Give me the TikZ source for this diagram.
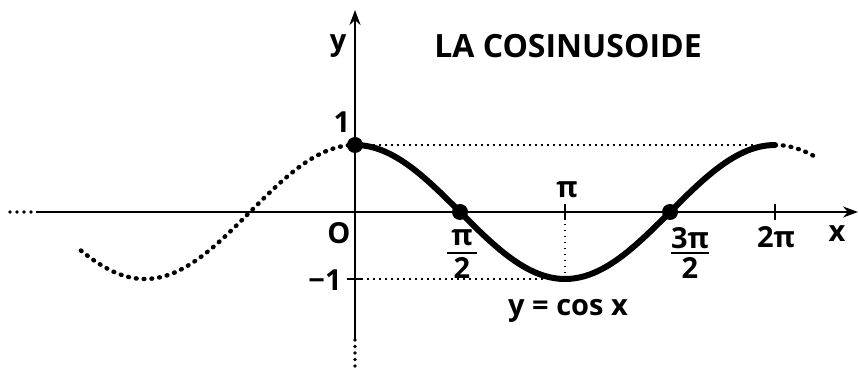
\documentclass[tikz,border=0pt]{standalone}
\usepackage{fontspec}
\setmainfont{Open Sans}
\usetikzlibrary{arrows.meta}
\begin{document}
\begin{tikzpicture}[x=1pt,y=-1pt,
  axis/.style={line width=2.4pt},
  thindot/.style={line width=1.6pt,dash pattern=on 1.5pt off 4.5pt},
  curve/.style={line width=6pt},
  curvedot/.style={line width=4.4pt,line cap=round,dash pattern=on 0.8pt off 7pt},
  pt/.style={circle,fill=black,inner sep=0pt,minimum size=16pt},
  lbl/.style={font=\bfseries\fontsize{29}{32}\selectfont,inner sep=0pt},
  fbar/.style={line width=2.2pt}]
\useasboundingbox (0,0) rectangle (859,371);
% coordinates
\coordinate (O) at (355,212);
\coordinate (xl) at (36,212);
\coordinate (xr) at (858,212);
\coordinate (xd) at (10,212);
\coordinate (yt) at (355,10);
\coordinate (yb) at (355,340);
\coordinate (ybd) at (355,368);
\coordinate (one) at (355,145);
\coordinate (mone) at (355,279);
\coordinate (pimin) at (565,279);
\coordinate (pi) at (565,212);
\coordinate (twopi) at (775,212);
\coordinate (twopitop) at (775,145);
% axes
\draw[axis,-{Stealth[length=15pt,width=11pt]}] (xl) -- (xr);
\draw[line cap=round,dash pattern=on 0pt off 7pt,line width=3.6pt] (xd) -- (xl);
\draw[axis,-{Stealth[length=15pt,width=11pt]}] (yb) -- (yt);
\draw[line width=3.6pt,line cap=round,dash pattern=on 0pt off 6.5pt] (yb) -- (ybd);
% ticks
\draw[axis] ([yshift=-8pt]pi) -- ([yshift=8pt]pi);
\draw[axis] ([yshift=-8pt]twopi) -- ([yshift=8pt]twopi);
\draw[axis] ([xshift=-8pt]mone) -- ([xshift=8pt]mone);
% guide lines
\draw[thindot] (one) -- (twopitop);
\draw[thindot] (mone) -- (pimin);
\draw[thindot] (pi) -- (pimin);
% curve
\draw[curve,line cap=round] plot[domain=0:6.2832,samples=120,smooth] ({355+66.85*\x},{212-67*cos(\x r)});
\draw[curvedot] plot[domain=-4.1:0,samples=80,smooth] ({355+66.85*\x},{212-67*cos(\x r)});
\draw[curvedot] plot[domain=6.2832:6.92,samples=20,smooth] ({355+66.85*\x},{212-67*cos(\x r)});
% points
\node[pt] (p0) at (one) {};
\node[pt] (p1) at (460,212) {};
\node[pt] (p2) at (670,212) {};
% labels
\node[lbl] (ly) at (338,46) {y};
\node[lbl,font=\bfseries\fontsize{32}{36}\selectfont] (title) at (568,46) {LA COSINUSOIDE};
\node[lbl] (l1) at (342,122) {1};
\node[lbl] (lO) at (339,233) {O};
\node[lbl] (lpi) at (567,190) {π};
\node[lbl] (n1) at (462,238) {π};
\node[lbl] (d1) at (462,268) {2};
\draw[fbar] (447,253) -- (477,253);
\node[lbl] (n2) at (690,238) {3π};
\node[lbl] (d2) at (690,268) {2};
\draw[fbar] (671,253) -- (709,253);
\node[lbl] (l2pi) at (776,237) {2π};
\node[lbl] (lx) at (837,234) {x};
\node[lbl] (lm1) at (325,280) {−1};
\node[lbl] (leq) at (568,311) {y = cos x};
\end{tikzpicture}
\end{document}
